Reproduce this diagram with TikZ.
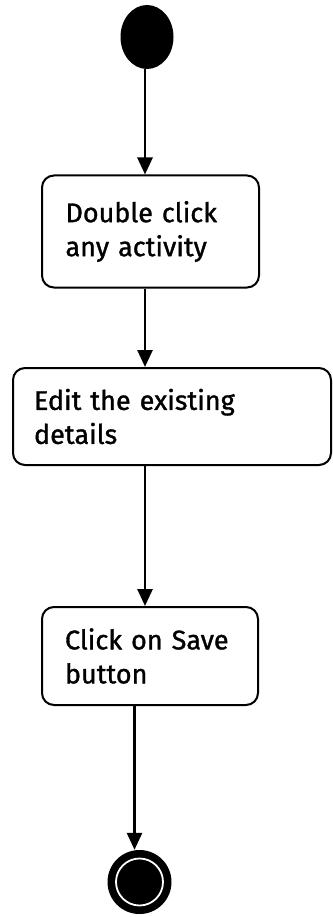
\documentclass[tikz,border=0pt]{standalone}
\usepackage{fontspec}
\setmainfont{Fira Sans}
\newfontfamily\boxfont{Fira Sans}[FakeBold=1.2]
\usetikzlibrary{arrows.meta,shapes.geometric}
\tikzset{
  actbox/.style={draw=black, line width=2pt, rounded corners=12pt, align=left,
    font=\boxfont\fontsize{27}{34}\selectfont, inner sep=0pt},
  flow/.style={draw=black, line width=2.8pt, -{Triangle[length=17pt,width=15pt]}},
}
\begin{document}
\begin{tikzpicture}[x=1pt,y=-1pt]
\useasboundingbox (0,0) rectangle (332,917);
% start
\node[ellipse, fill=black, minimum width=53pt, minimum height=64pt, inner sep=0pt] (s) at (147,37) {};
% boxes
\node[actbox, minimum width=217pt, minimum height=112pt, text width=170pt] (b1) at (150.5,231.5) {Double click\\any activity};
\node[actbox, minimum width=318pt, minimum height=97pt, text width=276pt] (b2) at (172,416.5) {Edit the existing\\details};
\node[actbox, minimum width=216pt, minimum height=98pt, text width=170pt] (b3) at (150,656) {Click on Save\\button};
% end
\node[circle, fill=black, minimum size=64pt, inner sep=0pt] (e) at (139.5,882) {};
\node[circle, draw=white, line width=1.8pt, minimum size=47pt, inner sep=0pt] (ering) at (139.5,882) {};
\coordinate (ex) at (134.5,0);
% connectors
\draw[flow] (s.south -| 145,0) -- (b1.north -| 145,0);
\draw[flow] (b1.south -| 145,0) -- (b2.north -| 145,0);
\draw[flow] (b2.south -| 145,0) -- (b3.north -| 145,0);
\draw[flow] (b3.south -| ex) -- (e.north -| ex);
\end{tikzpicture}
\end{document}
